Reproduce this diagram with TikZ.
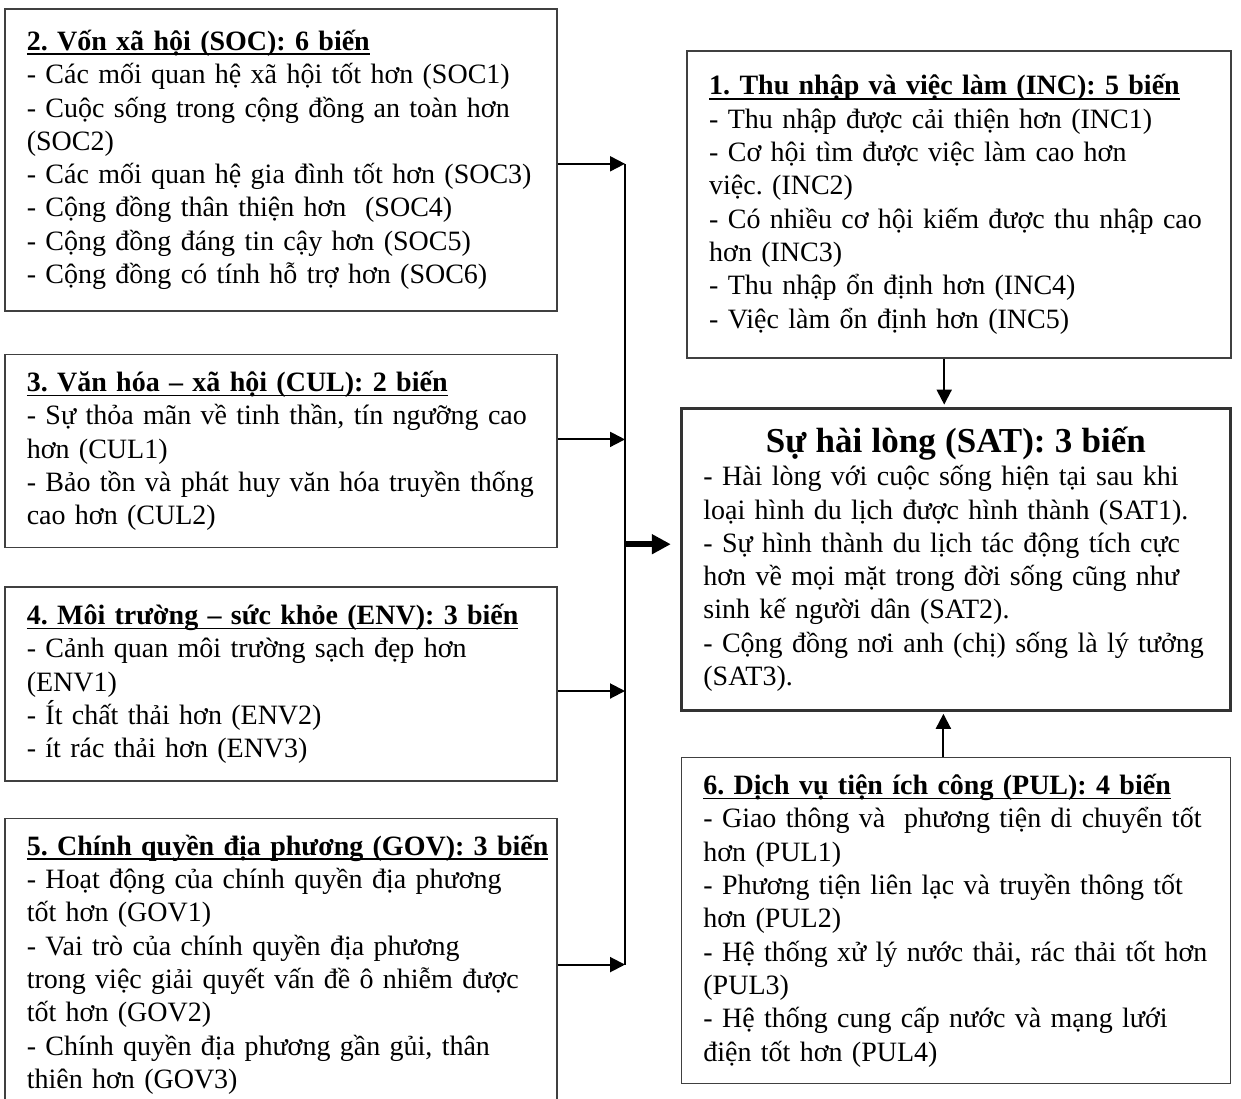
\documentclass[tikz,border=0pt]{standalone}
\usepackage{fontspec}
\setmainfont{Liberation Serif}
\usetikzlibrary{arrows.meta, positioning}
\definecolor{boxLine}{HTML}{404040}
\newsavebox\hdbox
\newcommand{\hd}[1]{\sbox\hdbox{\bfseries #1}\rlap{\rule[-2.4pt]{\wd\hdbox}{0.9pt}}\usebox\hdbox}
\frenchspacing

\begin{document}
\begin{tikzpicture}[x=0.5pt, y=-0.5pt,
    font=\fontsize{14}{16.65}\selectfont,
    grp/.style={draw=boxLine, line width=0.8pt, align=left, inner xsep=9pt, inner ysep=3pt, text width=258pt, minimum width=276pt, execute at begin node={\leftskip=2pt}},
    rgrp/.style={grp, text width=256.5pt, minimum width=274.5pt},
    satbox/.style={rgrp, draw=black!80, line width=1.6pt},
    arr/.style={-{Triangle[length=7.5pt, width=7.5pt]}, line width=1pt},
    bigarr/.style={-{Triangle[length=9.5pt, width=9.5pt]}, line width=3.2pt}]
  \useasboundingbox (0,0) rectangle (1241,1098);
  % left column
  \node[grp, minimum height=151pt, anchor=north west] (soc) at (4,8) {\hd{2. Vốn xã hội (SOC): 6 biến}\\
    - Các mối quan hệ xã hội tốt hơn (SOC1)\\
    - Cuộc sống trong cộng đồng an toàn hơn\\
    (SOC2)\\
    - Các mối quan hệ gia đình tốt hơn (SOC3)\\
    - Cộng đồng thân thiện hơn\ \ (SOC4)\\
    - Cộng đồng đáng tin cậy hơn (SOC5)\\
    - Cộng đồng có tính hỗ trợ hơn (SOC6)};
  \node[grp, minimum height=96.5pt, below=21pt of soc] (cul) {\hd{3. Văn hóa – xã hội (CUL): 2 biến}\\
    - Sự thỏa mãn về tinh thần, tín ngưỡng cao\\
    hơn (CUL1)\\
    - Bảo tồn và phát huy văn hóa truyền thống\\
    cao hơn (CUL2)};
  \node[grp, minimum height=97pt, below=19pt of cul] (env) {\hd{4. Môi trường – sức khỏe (ENV): 3 biến}\\
    - Cảnh quan môi trường sạch đẹp hơn\\
    (ENV1)\\
    - Ít chất thải hơn (ENV2)\\
    - ít rác thải hơn (ENV3)};
  \node[grp, minimum height=146pt, below=18pt of env] (gov) {\hd{5. Chính quyền địa phương (GOV): 3 biến}\\
    - Hoạt động của chính quyền địa phương\\
    tốt hơn (GOV1)\\
    - Vai trò của chính quyền địa phương\\
    trong việc giải quyết vấn đề ô nhiễm được\\
    tốt hơn (GOV2)\\
    - Chính quyền địa phương gần gủi, thân\\
    thiên hơn (GOV3)};
  % right column
  \node[rgrp, text width=254pt, minimum width=272pt, minimum height=153.5pt, anchor=north east] (inc) at (1232,50) {\hd{1. Thu nhập và việc làm (INC): 5 biến}\\
    - Thu nhập được cải thiện hơn (INC1)\\
    - Cơ hội tìm được việc làm cao hơn\\
    việc. (INC2)\\
    - Có nhiều cơ hội kiếm được thu nhập cao\\
    hơn (INC3)\\
    - Thu nhập ổn định hơn (INC4)\\
    - Việc làm ổn định hơn (INC5)\par\vspace{4pt}};
  \node[satbox, minimum height=151pt, below left=24pt and 0pt of inc.south east] (sat) {{\centering\fontsize{17.5}{20}\selectfont\bfseries Sự hài lòng (SAT): 3 biến\par}
    - Hài lòng với cuộc sống hiện tại sau khi\\
    loại hình du lịch được hình thành (SAT1).\\
    - Sự hình thành du lịch tác động tích cực\\
    hơn về mọi mặt trong đời sống cũng như\\
    sinh kế người dân (SAT2).\\
    - Cộng đồng nơi anh (chị) sống là lý tưởng\\
    (SAT3).};
  \node[rgrp, minimum height=163pt, below=22.5pt of sat] (pul) {\hd{6. Dịch vụ tiện ích công (PUL): 4 biến}\\
    - Giao thông và\ \ phương tiện di chuyển tốt\\
    hơn (PUL1)\\
    - Phương tiện liên lạc và truyền thông tốt\\
    hơn (PUL2)\\
    - Hệ thống xử lý nước thải, rác thải tốt hơn\\
    (PUL3)\\
    - Hệ thống cung cấp nước và mạng lưới\\
    điện tốt hơn (PUL4)\par\vspace{5pt}};
  % connectors
  \coordinate (bus) at (625,163);
  \draw[line width=1pt] ([yshift=-2pt]soc.east -| bus) -- (gov.east -| bus);
  \draw[arr] ([yshift=-2pt]soc.east) -- ([yshift=-2pt]soc.east -| bus);
  \draw[arr] ([yshift=5.75pt]cul.east) -- ([yshift=5.75pt]cul.east -| bus);
  \draw[arr] ([yshift=-3.5pt]env.east) -- ([yshift=-3.5pt]env.east -| bus);
  \draw[arr] (gov.east) -- (gov.east -| bus);
  \draw[bigarr, shorten >=4.5pt] ([yshift=7.5pt]sat.west -| bus) -- ([yshift=7.5pt]sat.west);
  \draw[arr, shorten >=1pt] ([xshift=-7.5pt]inc.south) -- ([xshift=-7.5pt]inc.south |- sat.north);
  \draw[arr, shorten >=1pt] ([xshift=-6.25pt]pul.north) -- ([xshift=-6.25pt]pul.north |- sat.south);
\end{tikzpicture}
\end{document}
